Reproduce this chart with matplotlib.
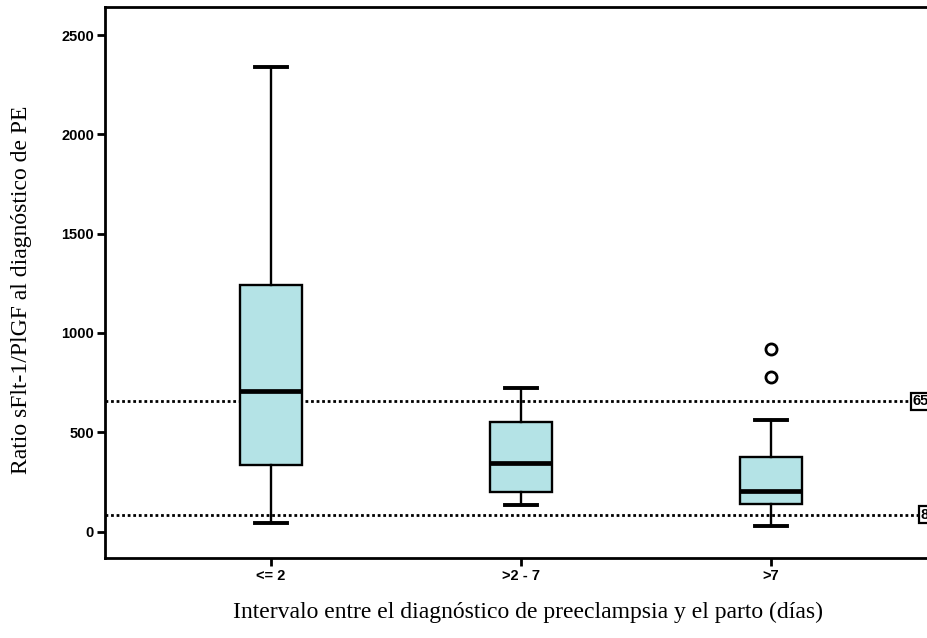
import matplotlib
matplotlib.use("Agg")
import matplotlib.pyplot as plt

# datos (ratio sFlt-1/PlGF)
categorias = ["<= 2", ">2 - 7", ">7"]
bigote_sup = [2340, 723, 561]
q3 = [1241, 551, 375]
mediana = [707, 345, 205]
q1 = [335, 199, 137]
bigote_inf = [45, 136, 28]
atipicos = [[], [], [919, 778]]
lineas_ref = [655, 85]
etiquetas_ref = ["655", "85"]

stats = []
for i in range(len(categorias)):
    stats.append({
        "label": categorias[i],
        "whishi": bigote_sup[i],
        "q3": q3[i],
        "med": mediana[i],
        "q1": q1[i],
        "whislo": bigote_inf[i],
        "fliers": atipicos[i],
    })

fig = plt.figure(figsize=(9.28, 6.38), dpi=100)
ax = fig.add_axes([105 / 928, 80 / 638, 832 / 928, 551 / 638])

ax.bxp(stats, positions=[1, 2, 3], widths=0.25, patch_artist=True,
       boxprops=dict(facecolor="#b4e3e6", edgecolor="black", linewidth=1.7),
       medianprops=dict(color="black", linewidth=3.4),
       whiskerprops=dict(color="black", linewidth=1.7),
       capprops=dict(color="black", linewidth=2.8),
       capwidths=0.125,
       flierprops=dict(marker="o", markersize=8, markerfacecolor="white",
                       markeredgecolor="black", markeredgewidth=2))

ax.set_xlim(0.336, 3.664)
ax.set_ylim(-133, 2641)

# líneas de referencia con su etiqueta recuadrada (recortada en el borde)
for val, txt in zip(lineas_ref, etiquetas_ref):
    ax.axhline(val, color="black", linestyle=(0, (1, 1)), linewidth=2, zorder=1)
    ax.text(3.664, val, txt, ha="right", va="center", fontsize=10.5,
            fontweight="bold", family="Liberation Sans", zorder=5,
            bbox=dict(boxstyle="square,pad=0.12", facecolor="white",
                      edgecolor="black", linewidth=1.6))

ax.set_yticks([0, 500, 1000, 1500, 2000, 2500])
ax.set_xticks([1, 2, 3])
ax.set_xticklabels(categorias)
for lab in ax.get_xticklabels() + ax.get_yticklabels():
    lab.set_fontfamily("Liberation Sans")
    lab.set_fontweight("bold")
    lab.set_fontsize(10.5)
ax.tick_params(axis="both", direction="out", length=6, width=2, pad=2)

for s in ax.spines.values():
    s.set_linewidth(2)

ax.set_ylabel("Ratio sFlt-1/PlGF al diagnóstico de PE",
              family="Liberation Serif", fontsize=17)
ax.set_xlabel("Intervalo entre el diagnóstico de preeclampsia y el parto (días)",
              family="Liberation Serif", fontsize=17)
ax.yaxis.set_label_coords(-0.088, 0.486)
ax.xaxis.set_label_coords(0.508, -0.08)

fig.savefig("out.png", dpi=100)
